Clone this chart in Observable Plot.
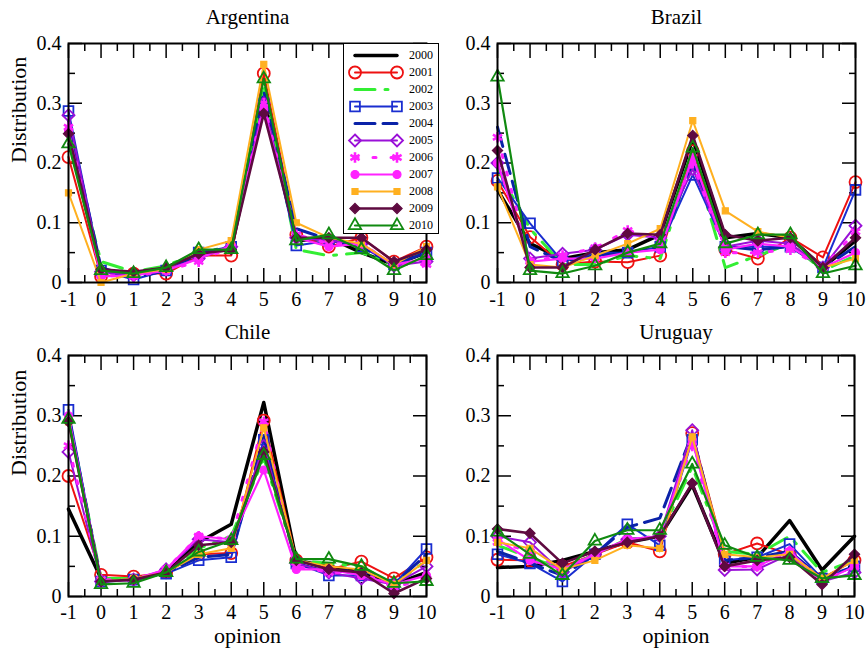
<!DOCTYPE html>
<html><head><meta charset="utf-8">
<script src="https://cdn.jsdelivr.net/npm/d3@7"></script>
<script src="https://cdn.jsdelivr.net/npm/@observablehq/plot@0.6"></script>
<style>
html,body{margin:0;padding:0;background:#fff;}
#chart{position:relative;width:866px;height:651px;overflow:hidden;font-family:"Liberation Serif","DejaVu Serif",serif;background:#fff;}
#chart svg, #chart svg text{font-family:"Liberation Serif","DejaVu Serif",serif !important;}
.panel{position:absolute;}
#legend{position:absolute;left:343px;top:43px;width:96px;height:191px;border:1.5px solid #000;background:#fff;box-sizing:border-box;z-index:5;}
</style></head><body><div id="chart"><div id="legend"></div></div>
<script>
// ---------------- data ----------------
const opinions = [-1, 0, 1, 2, 3, 4, 5, 6, 7, 8, 9, 10];
const years = [2000, 2001, 2002, 2003, 2004, 2005, 2006, 2007, 2008, 2009, 2010];
const countries = ["Argentina", "Brazil", "Chile", "Uruguay"];

// rows = years 2000..2010, columns = opinions -1..10
const argentina = [
  [0.245, 0.020, 0.015, 0.025, 0.050, 0.055, 0.310, 0.070, 0.075, 0.050, 0.030, 0.050],
  [0.210, 0.010, 0.015, 0.015, 0.045, 0.045, 0.350, 0.080, 0.060, 0.075, 0.035, 0.060],
  [0.240, 0.035, 0.018, 0.028, 0.050, 0.060, 0.330, 0.055, 0.045, 0.050, 0.030, 0.055],
  [0.287, 0.020, 0.005, 0.020, 0.050, 0.060, 0.300, 0.062, 0.070, 0.060, 0.030, 0.050],
  [0.270, 0.025, 0.008, 0.020, 0.048, 0.060, 0.320, 0.090, 0.072, 0.060, 0.030, 0.050],
  [0.280, 0.018, 0.012, 0.022, 0.040, 0.060, 0.300, 0.075, 0.070, 0.065, 0.028, 0.035],
  [0.260, 0.012, 0.010, 0.020, 0.035, 0.060, 0.300, 0.080, 0.065, 0.065, 0.030, 0.030],
  [0.255, 0.010, 0.012, 0.020, 0.040, 0.062, 0.290, 0.075, 0.060, 0.065, 0.030, 0.040],
  [0.150, 0.000, 0.015, 0.022, 0.055, 0.070, 0.365, 0.100, 0.075, 0.065, 0.030, 0.060],
  [0.249, 0.022, 0.018, 0.025, 0.048, 0.055, 0.283, 0.075, 0.075, 0.075, 0.035, 0.055],
  [0.232, 0.020, 0.015, 0.025, 0.055, 0.055, 0.341, 0.070, 0.080, 0.055, 0.020, 0.045]
];
const brazil = [
  [0.155, 0.065, 0.040, 0.050, 0.055, 0.080, 0.240, 0.075, 0.082, 0.075, 0.025, 0.070],
  [0.170, 0.076, 0.030, 0.035, 0.034, 0.045, 0.220, 0.055, 0.040, 0.075, 0.042, 0.168],
  [0.190, 0.090, 0.030, 0.030, 0.045, 0.040, 0.210, 0.025, 0.045, 0.065, 0.020, 0.045],
  [0.175, 0.099, 0.035, 0.050, 0.050, 0.060, 0.180, 0.060, 0.060, 0.060, 0.025, 0.155],
  [0.260, 0.060, 0.035, 0.045, 0.050, 0.060, 0.200, 0.060, 0.055, 0.060, 0.025, 0.060],
  [0.200, 0.040, 0.048, 0.055, 0.080, 0.075, 0.190, 0.060, 0.070, 0.065, 0.025, 0.095],
  [0.243, 0.035, 0.045, 0.058, 0.087, 0.075, 0.200, 0.050, 0.050, 0.055, 0.025, 0.085],
  [0.200, 0.035, 0.040, 0.040, 0.050, 0.055, 0.210, 0.055, 0.065, 0.060, 0.025, 0.050],
  [0.160, 0.030, 0.025, 0.045, 0.065, 0.090, 0.271, 0.120, 0.085, 0.075, 0.025, 0.040],
  [0.221, 0.025, 0.025, 0.055, 0.082, 0.080, 0.246, 0.080, 0.070, 0.075, 0.025, 0.075],
  [0.344, 0.020, 0.015, 0.028, 0.050, 0.065, 0.225, 0.065, 0.080, 0.080, 0.015, 0.028]
];
const chile = [
  [0.145, 0.030, 0.028, 0.040, 0.090, 0.120, 0.322, 0.060, 0.050, 0.040, 0.020, 0.040],
  [0.200, 0.036, 0.033, 0.040, 0.070, 0.072, 0.292, 0.060, 0.045, 0.058, 0.030, 0.065],
  [0.300, 0.030, 0.030, 0.040, 0.080, 0.100, 0.230, 0.060, 0.055, 0.050, 0.020, 0.060],
  [0.310, 0.025, 0.028, 0.038, 0.060, 0.065, 0.260, 0.055, 0.035, 0.035, 0.020, 0.079],
  [0.300, 0.025, 0.028, 0.040, 0.065, 0.070, 0.265, 0.055, 0.040, 0.045, 0.020, 0.070],
  [0.240, 0.025, 0.028, 0.045, 0.095, 0.090, 0.250, 0.055, 0.040, 0.030, 0.020, 0.050],
  [0.250, 0.028, 0.028, 0.045, 0.100, 0.095, 0.290, 0.050, 0.040, 0.040, 0.015, 0.030],
  [0.300, 0.025, 0.028, 0.045, 0.100, 0.095, 0.210, 0.045, 0.045, 0.035, 0.020, 0.035],
  [0.290, 0.025, 0.030, 0.040, 0.070, 0.080, 0.280, 0.060, 0.050, 0.045, 0.020, 0.060],
  [0.290, 0.025, 0.028, 0.040, 0.085, 0.090, 0.240, 0.060, 0.045, 0.040, 0.005, 0.030],
  [0.294, 0.020, 0.022, 0.040, 0.074, 0.093, 0.234, 0.062, 0.062, 0.050, 0.022, 0.025]
];
const uruguay = [
  [0.048, 0.050, 0.060, 0.075, 0.090, 0.100, 0.185, 0.055, 0.065, 0.126, 0.044, 0.100],
  [0.061, 0.060, 0.050, 0.070, 0.090, 0.075, 0.271, 0.070, 0.088, 0.070, 0.030, 0.060],
  [0.085, 0.065, 0.045, 0.070, 0.095, 0.100, 0.215, 0.075, 0.070, 0.100, 0.040, 0.060],
  [0.070, 0.055, 0.025, 0.070, 0.120, 0.085, 0.260, 0.060, 0.065, 0.087, 0.030, 0.050],
  [0.075, 0.055, 0.035, 0.070, 0.115, 0.130, 0.270, 0.060, 0.065, 0.075, 0.030, 0.050],
  [0.100, 0.090, 0.040, 0.070, 0.095, 0.100, 0.276, 0.044, 0.045, 0.070, 0.025, 0.040],
  [0.090, 0.075, 0.045, 0.070, 0.095, 0.100, 0.250, 0.050, 0.050, 0.075, 0.025, 0.050],
  [0.095, 0.060, 0.045, 0.070, 0.095, 0.100, 0.260, 0.050, 0.050, 0.075, 0.025, 0.050],
  [0.090, 0.080, 0.045, 0.060, 0.085, 0.080, 0.265, 0.070, 0.065, 0.070, 0.030, 0.060],
  [0.112, 0.105, 0.055, 0.075, 0.090, 0.100, 0.188, 0.050, 0.060, 0.065, 0.020, 0.070],
  [0.107, 0.070, 0.035, 0.092, 0.110, 0.110, 0.220, 0.085, 0.065, 0.060, 0.030, 0.035]
];

// tick values and labels
const xTicks = [-1, 0, 1, 2, 3, 4, 5, 6, 7, 8, 9, 10];
const xTickLabels = ["-1", "0", "1", "2", "3", "4", "5", "6", "7", "8", "9", "10"];
const xMinorTicks = [-0.5, 0.5, 1.5, 2.5, 3.5, 4.5, 5.5, 6.5, 7.5, 8.5, 9.5];
const yTicks = [0, 0.1, 0.2, 0.3, 0.4];
const yTickLabels = ["0", "0.1", "0.2", "0.3", "0.4"];
const yMinorTicks = [0.05, 0.15, 0.25, 0.35];
const yAxisLabel = "Distribution";
const xAxisLabel = "opinion";

// ---------------- styles ----------------
const yearColors = ["#000000", "#ee1111", "#33ee33", "#1a2ed0", "#0a22a8", "#9a10d8", "#ff22ff", "#ff22ff", "#ffb020", "#5e0a40", "#108a10"];
const yearWidths = [3.5, 2, 3, 2, 3, 2, 3, 2.2, 2, 2.6, 2.2];
const yearDashes = [null, null, "20,10,3,10", null, "20,8", null, "3,15", null, null, null, null];
const yearSymbols = [null, "circle", null, "square", null, "diamond2", "asterisk", "circle", "square", "diamond2", "triangle"];
const yearSymbolFills = [null, "none", null, "none", null, "none", "#ff22ff", "#ff22ff", "#ffb020", "#5e0a40", "none"];
const yearSymbolR = [0, 6, 0, 5.5, 0, 5.4, 5, 4, 3.4, 4.6, 4.6];
const yearSymbolStrokeW = [0, 1.8, 0, 1.8, 0, 1.8, 2.6, 1.2, 1.2, 1.2, 1.8];

const font = "'Liberation Serif', 'DejaVu Serif', serif";

function tickMarks() {
  const m = [];
  const common = {label: null, fill: "none", strokeWidth: 1.5};
  for (const a of ["bottom", "top"]) {
    m.push(Plot.axisX(xTicks, {...common, anchor: a, tickSize: -14}));
    m.push(Plot.axisX(xMinorTicks, {...common, anchor: a, tickSize: -7}));
  }
  for (const a of ["left", "right"]) {
    m.push(Plot.axisY(yTicks, {...common, anchor: a, tickSize: -14}));
    m.push(Plot.axisY(yMinorTicks, {...common, anchor: a, tickSize: -7}));
  }
  return m;
}

function panel(name, values, cfg) {
  const rows = [];
  values.forEach((arr, yi) => arr.forEach((v, oi) => rows.push({yi, year: years[yi], x: opinions[oi], y: v})));
  const marks = [...tickMarks()];
  years.forEach((yr, i) => {
    const d = rows.filter(r => r.yi === i);
    marks.push(Plot.line(d, {x: "x", y: "y", stroke: yearColors[i], strokeWidth: yearWidths[i],
      strokeDasharray: yearDashes[i] || undefined, strokeLinejoin: "round"}));
    if (yearSymbols[i]) {
      marks.push(Plot.dot(d, {x: "x", y: "y", symbol: yearSymbols[i], r: yearSymbolR[i],
        stroke: yearColors[i], fill: yearSymbolFills[i], strokeWidth: yearSymbolStrokeW[i]}));
    }
  });
  marks.push(Plot.frame({strokeWidth: 2}));
  marks.push(Plot.axisX(xTicks, {anchor: "bottom", tickSize: 0, tickPadding: cfg.xPad, label: null,
    tickFormat: (d, i) => xTickLabels[i], fontSize: 20}));
  marks.push(Plot.axisY(yTicks, {anchor: "left", tickSize: 0, tickPadding: 7, label: null,
    tickFormat: (d, i) => yTickLabels[i], fontSize: 20}));
  marks.push(Plot.text([name], {text: d => d, frameAnchor: "top", lineAnchor: "bottom", dy: cfg.titleDy, fontSize: 21}));
  if (cfg.yLabel) marks.push(Plot.text([yAxisLabel], {text: d => d, frameAnchor: "left", rotate: -90, dx: -50, fontSize: 22}));
  if (cfg.xLabel) marks.push(Plot.text([xAxisLabel], {text: d => d, frameAnchor: "bottom", lineAnchor: "bottom", dy: 46, fontSize: 22}));
  const p = Plot.plot({
    width: cfg.w, height: cfg.h,
    marginTop: cfg.mt, marginRight: cfg.mr, marginBottom: cfg.mb, marginLeft: cfg.ml,
    x: {domain: [-1, 10]},
    y: {domain: [0, 0.4]},
    style: {fontFamily: font, fontSize: "20px", background: "transparent", overflow: "visible", color: "#000"},
    marks
  });
  p.classList.add("panel");
  p.style.left = cfg.left + "px";
  p.style.top = cfg.top + "px";
  return p;
}

const chart = document.getElementById("chart");
const panelData = [argentina, brazil, chile, uruguay];
const cfgs = [
  {left: 0, top: 0, w: 433, h: 320, mt: 43, mr: 7, mb: 38, ml: 68, xPad: 9, titleDy: -20, yLabel: true, xLabel: false},
  {left: 433, top: 0, w: 433, h: 320, mt: 43, mr: 11, mb: 38, ml: 64, xPad: 9, titleDy: -20, yLabel: false, xLabel: false},
  {left: 0, top: 320, w: 433, h: 331, mt: 35, mr: 7, mb: 55, ml: 68, xPad: 8, titleDy: -17, yLabel: true, xLabel: true},
  {left: 433, top: 320, w: 433, h: 331, mt: 35, mr: 12, mb: 55, ml: 64, xPad: 8, titleDy: -17, yLabel: false, xLabel: true}
];
countries.forEach((c, i) => chart.insertBefore(panel(c, panelData[i], cfgs[i]), chart.firstChild));

// ---------------- legend ----------------
const legendRows = years.flatMap((yr, i) => [{yi: i, year: yr, t: 0}, {yi: i, year: yr, t: 1}]);
const legendMarks = [];
years.forEach((yr, i) => {
  const d = legendRows.filter(r => r.yi === i);
  legendMarks.push(Plot.line(d, {x: "t", y: "year", stroke: yearColors[i], strokeWidth: yearWidths[i],
    strokeDasharray: yearDashes[i] || undefined}));
  if (yearSymbols[i]) {
    legendMarks.push(Plot.dot(d, {x: "t", y: "year", symbol: yearSymbols[i], r: yearSymbolR[i],
      stroke: yearColors[i], fill: yearSymbolFills[i], strokeWidth: yearSymbolStrokeW[i]}));
  }
});
legendMarks.push(Plot.text(years, {x: () => 1, y: d => d, text: d => String(d), textAnchor: "start", dx: 12, fontSize: 12}));
const legendPlot = Plot.plot({
  width: 93, height: 188,
  marginTop: 10.5, marginBottom: 7.5, marginLeft: 10.5, marginRight: 40.5,
  x: {domain: [0, 1], axis: null},
  y: {type: "point", domain: years, axis: null, padding: 0},
  style: {fontFamily: font, fontSize: "12px", background: "transparent", overflow: "visible", color: "#000"},
  marks: legendMarks
});
document.getElementById("legend").appendChild(legendPlot);
</script>
</body></html>
